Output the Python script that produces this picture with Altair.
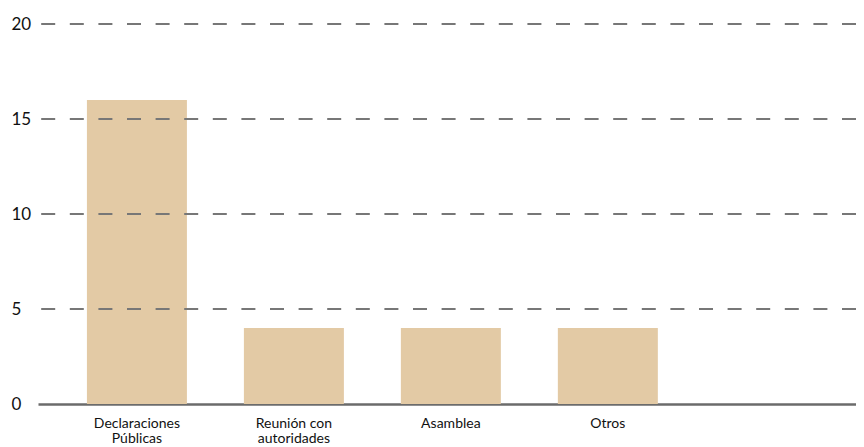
import altair as alt
import pandas as pd

categories = ["Declaraciones Públicas", "Reunión con autoridades", "Asamblea", "Otros"]
values = [16, 4, 4, 4]
label_lines = {
    "Declaraciones Públicas": ["Declaraciones", "Públicas"],
    "Reunión con autoridades": ["Reunión con", "autoridades"],
}
y_ticks = [0, 5, 10, 15, 20]

df = pd.DataFrame({"cat": categories, "val": values})

expr = "datum.label"
for k, v in label_lines.items():
    expr = f"datum.label == '{k}' ? {v!r} : (" + expr + ")"

FONT = "Lato"

bars = alt.Chart(df).mark_bar(color="#e3caa5").encode(
    x=alt.X("cat:N", sort=categories, title=None,
            scale=alt.Scale(paddingInner=0.363, paddingOuter=0.787, align=0.198),
            axis=alt.Axis(labelAngle=0, labelExpr=expr, labelFontSize=14,
                          labelColor="#111", labelFont=FONT, labelPadding=12,
                          labelLineHeight=15, ticks=False, domain=True,
                          domainColor="#6b6b6b", domainWidth=2.5, grid=False)),
    y=alt.Y("val:Q", title=None,
            scale=alt.Scale(domain=[0, 20], nice=False),
            axis=alt.Axis(values=y_ticks, labelFontSize=17, labelColor="#111",
                          labelFont=FONT, labelAlign="left", labelPadding=27,
                          ticks=False, domain=False, grid=False)),
)

grid = alt.Chart(pd.DataFrame({"v": y_ticks[1:]})).mark_rule(
    color="#777777", strokeWidth=2, strokeDash=[14, 14.6]
).encode(y="v:Q")

chart = alt.layer(bars, grid).properties(
    width=818, height=380,
    autosize=alt.AutoSizeParams(type="none"),
    padding={"left": 30, "top": 16, "right": 0, "bottom": 40},
).configure_view(stroke=None)

chart.save("out.html", embed_options={"renderer": "svg", "actions": False})
